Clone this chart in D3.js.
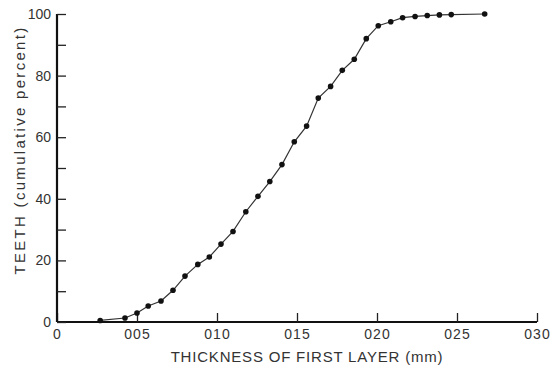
<!DOCTYPE html>
<html>
<head>
<meta charset="utf-8">
<script src="https://cdn.jsdelivr.net/npm/d3@7"></script>
<style>
  body { margin: 0; background: #fff; }
  text { font-family: "Liberation Sans", "DejaVu Sans", sans-serif; fill: #333; }
</style>
</head>
<body>
<div id="chart"></div>
<script>
// épaisseur de la première couche (mm) et pourcentage cumulé des dents
const thickness = [0.027, 0.0425, 0.050, 0.057, 0.065, 0.0725, 0.080, 0.088, 0.0952, 0.1025,
  0.110, 0.118, 0.1256, 0.133, 0.1406, 0.1483, 0.156, 0.1633, 0.171, 0.1783,
  0.1858, 0.1933, 0.2008, 0.2086, 0.216, 0.2238, 0.2314, 0.239, 0.2464, 0.2673];
const cumPercent = [0.5, 1.3, 2.9, 5.2, 6.8, 10.3, 14.9, 18.7, 21.1, 25.3,
  29.4, 35.8, 40.8, 45.6, 51.1, 58.5, 63.6, 72.7, 76.5, 81.7,
  85.3, 92.0, 96.2, 97.5, 98.8, 99.2, 99.5, 99.7, 99.8, 100];
const xTicks = [0, 0.05, 0.10, 0.15, 0.20, 0.25, 0.30];
const xTickLabels = ["0", "005", "010", "015", "020", "025", "030"];
const yTicks = [0, 10, 20, 30, 40, 50, 60, 70, 80, 90, 100];
const yTickLabels = ["0", "", "20", "", "40", "", "60", "", "80", "", "100"];

const width = 560, height = 374;
const margin = { top: 14, right: 23, bottom: 52, left: 57 };

const data = thickness.map((t, i) => ({ x: t, y: cumPercent[i] }));

const svg = d3.select("#chart").append("svg")
  .attr("width", width)
  .attr("height", height);

const x = d3.scaleLinear().domain([0, 0.30]).range([margin.left, width - margin.right]);
const y = d3.scaleLinear().domain([0, 100]).range([height - margin.bottom, margin.top]);

// axe X, graduations vers le haut
const xAxis = d3.axisBottom(x)
  .tickValues(xTicks)
  .tickSize(-9)
  .tickPadding(7)
  .tickFormat((d, i) => xTickLabels[i]);
const gx = svg.append("g")
  .attr("transform", `translate(0,${y(0)})`)
  .call(xAxis);
gx.select(".domain").attr("stroke", "#111").attr("stroke-width", 2).attr("d", `M${x(0)},0H${x(0.30)}`);
gx.selectAll(".tick line").attr("stroke", "#222").attr("stroke-width", 1.3);
gx.selectAll(".tick text").attr("font-size", 14).attr("fill", "#333")
  .attr("font-family", "Liberation Sans, sans-serif").attr("letter-spacing", 1);

// axe Y, graduations vers la droite
const yAxis = d3.axisLeft(y)
  .tickValues(yTicks)
  .tickSize(-9)
  .tickPadding(6)
  .tickFormat((d, i) => yTickLabels[i]);
const gy = svg.append("g")
  .attr("transform", `translate(${x(0)},0)`)
  .call(yAxis);
gy.select(".domain").attr("stroke", "#111").attr("stroke-width", 2.2).attr("d", `M0,${y(0)}V${y(100)}`);
gy.selectAll(".tick line").attr("stroke", "#222").attr("stroke-width", 1.3);
gy.selectAll(".tick text").attr("font-size", 14).attr("fill", "#333")
  .attr("font-family", "Liberation Sans, sans-serif");

// titres des axes
svg.append("text")
  .attr("x", 307)
  .attr("y", 362)
  .attr("text-anchor", "middle")
  .attr("font-size", 15)
  .attr("letter-spacing", 0.8)
  .text("THICKNESS OF FIRST LAYER (mm)");

svg.append("text")
  .attr("transform", `translate(25,150) rotate(-90)`)
  .attr("text-anchor", "middle")
  .attr("font-size", 15)
  .attr("letter-spacing", 2.3)
  .text("TEETH (cumulative percent)");

// courbe
const line = d3.line().x(d => x(d.x)).y(d => y(d.y));
svg.append("path")
  .datum(data)
  .attr("fill", "none")
  .attr("stroke", "#333")
  .attr("stroke-width", 1.2)
  .attr("d", line);

svg.selectAll("circle")
  .data(data)
  .join("circle")
  .attr("cx", d => x(d.x))
  .attr("cy", d => y(d.y))
  .attr("r", 2.8)
  .attr("fill", "#111");
</script>
</body>
</html>
